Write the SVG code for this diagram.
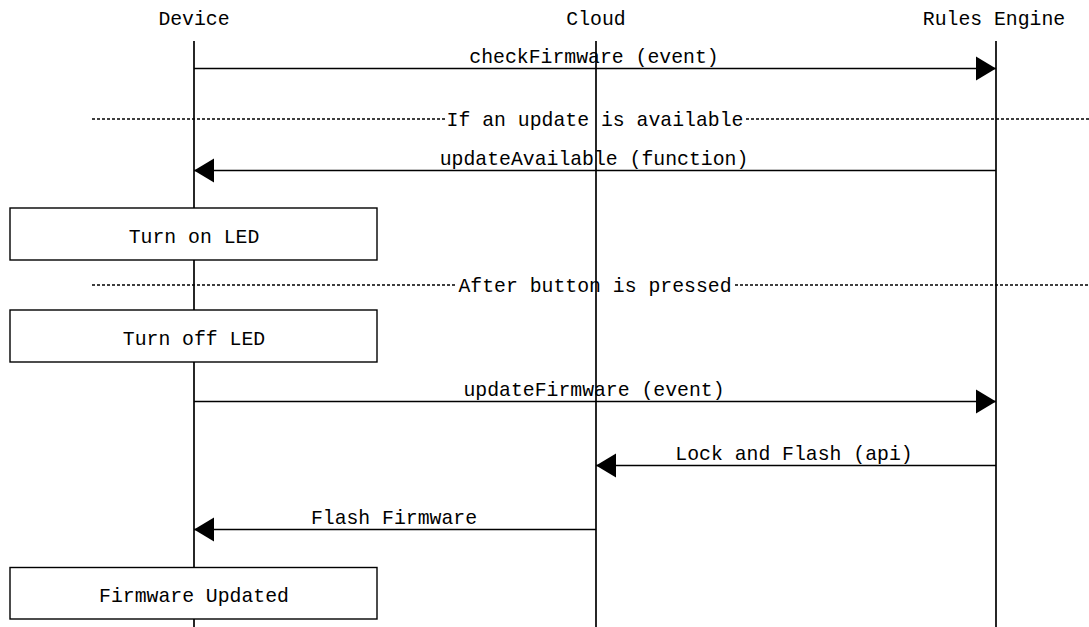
<svg xmlns="http://www.w3.org/2000/svg" width="1089" height="627" viewBox="0 0 1089 627">
<style>
text{font-family:"Liberation Mono","DejaVu Sans Mono",monospace;font-size:19.8px;fill:#000;text-anchor:middle}
.life{stroke:#000;stroke-width:1.7;fill:none}
.msg{stroke:#000;stroke-width:1.4;fill:none;marker-end:url(#ah)}
.sep{stroke:#000;stroke-width:1.5;stroke-dasharray:3 2;fill:none}
.box{fill:#fff;stroke:#000;stroke-width:1.4}
</style>
<defs>
<marker id="ah" markerUnits="userSpaceOnUse" markerWidth="22" markerHeight="26" refX="20" refY="12" orient="auto" overflow="visible">
<path d="M0,0 L20,12 L0,24 z" fill="#000"/>
</marker>
</defs>
<rect width="1089" height="627" fill="#fff"/>
<g id="participants">
<g id="device"><text x="194" y="25">Device</text><line class="life" x1="194" y1="41" x2="194" y2="627"/></g>
<g id="cloud"><text x="596" y="25">Cloud</text><line class="life" x1="596" y1="41" x2="596" y2="627"/></g>
<g id="rules-engine"><text x="994" y="25">Rules Engine</text><line class="life" x1="996" y1="41" x2="996" y2="627"/></g>
</g>
<g id="separators">
<line class="sep" x1="92" y1="119" x2="445" y2="119"/><line class="sep" x1="746" y1="119" x2="1089" y2="119"/>
<text x="595" y="126">If an update is available</text>
<line class="sep" x1="92" y1="285" x2="455" y2="285"/><line class="sep" x1="735" y1="285" x2="1089" y2="285"/>
<text x="595" y="292">After button is pressed</text>
</g>
<g id="connectors">
<line class="msg" x1="194" y1="68.5" x2="996" y2="68.5"/>
<text x="594" y="63">checkFirmware (event)</text>
<line class="msg" x1="996" y1="170.5" x2="194" y2="170.5"/>
<text x="594" y="165">updateAvailable (function)</text>
<line class="msg" x1="194" y1="401.5" x2="996" y2="401.5"/>
<text x="594" y="396">updateFirmware (event)</text>
<line class="msg" x1="996" y1="465.5" x2="596" y2="465.5"/>
<text x="794" y="460">Lock and Flash (api)</text>
<line class="msg" x1="596" y1="529.5" x2="194" y2="529.5"/>
<text x="394" y="524">Flash Firmware</text>
</g>
<g id="turn-on-led"><rect class="box" x="10" y="208" width="367" height="52"/><text x="194" y="243">Turn on LED</text></g>
<g id="turn-off-led"><rect class="box" x="10" y="310" width="367" height="52"/><text x="194" y="345">Turn off LED</text></g>
<g id="firmware-updated"><rect class="box" x="10" y="567.5" width="367" height="51.5"/><text x="194" y="602">Firmware Updated</text></g>
</svg>
